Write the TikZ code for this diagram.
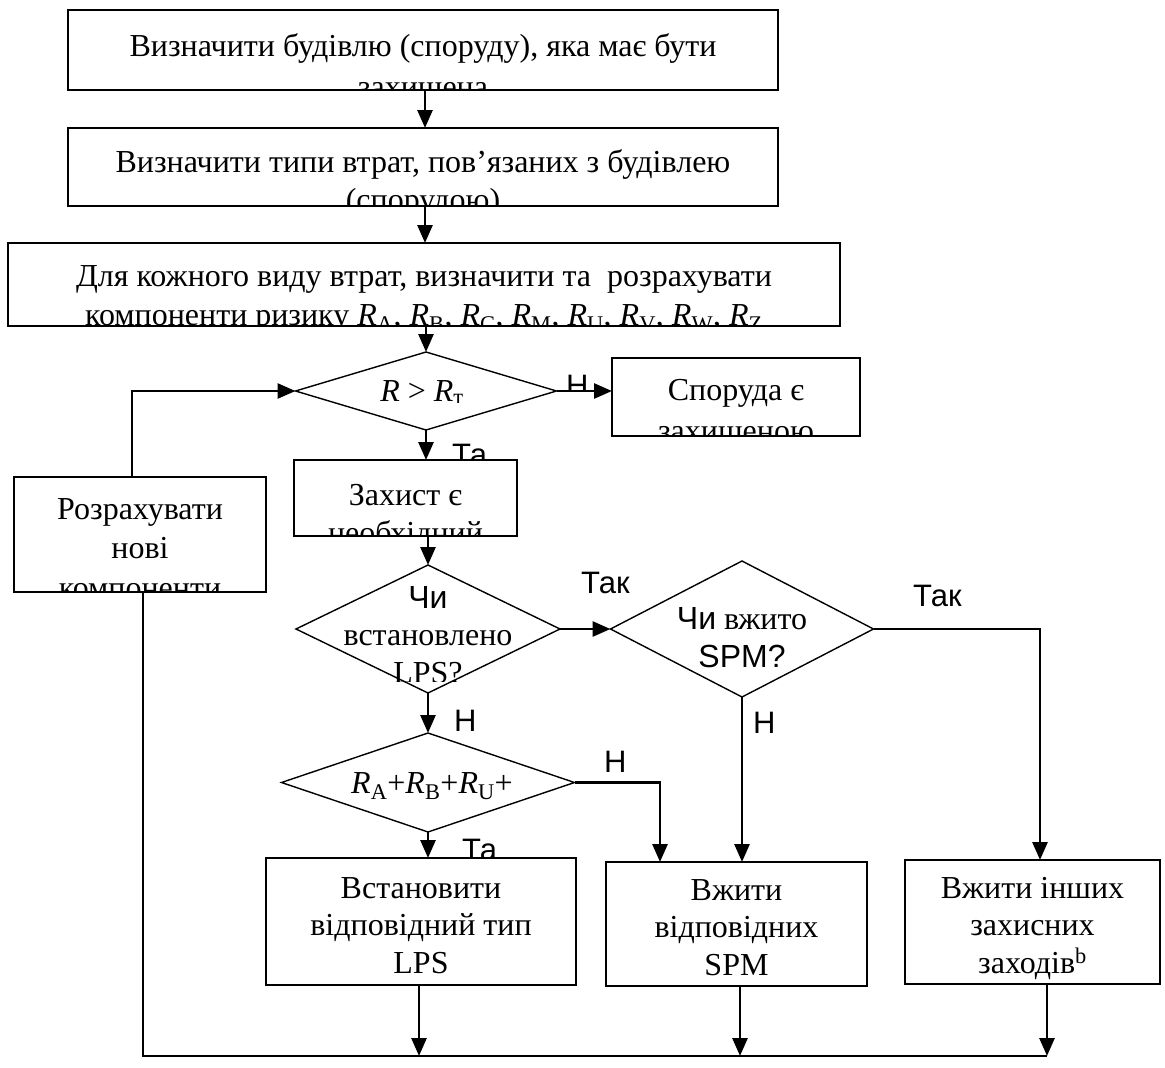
\documentclass[tikz,border=0pt]{standalone}
\usepackage{fontspec}
\setmainfont{Liberation Serif}
\newfontfamily\arialfont{Liberation Sans}
\usetikzlibrary{arrows.meta,shapes.geometric}

\begin{document}
\begin{tikzpicture}[x=1pt,y=-1pt,
  box/.style={draw, line width=1.4pt, inner sep=0pt, outer sep=0pt},
  dia/.style={draw, diamond, line width=1.4pt, inner sep=0pt, outer sep=0pt},
  % anchor=base of a multi-line text is the baseline of its last line
  txt/.style={font=\fontsize{32}{37.5}\selectfont, align=center, inner sep=0pt, anchor=base},
  wide/.style={font=\fontsize{32}{41}\selectfont},
  lbl/.style={font=\arialfont\fontsize{31}{32}\selectfont, inner sep=0pt, anchor=base west},
  flow/.style={line width=2.8pt, -{Triangle[length=18pt,width=15pt]}},
  link/.style={line width=2.8pt}]

\useasboundingbox (0,0) rectangle (1165,1068);

% ---------- boxes ----------
\node[box, minimum width=710pt, minimum height=80pt] (b1) at (423,50) {};
\node[box, minimum width=710pt, minimum height=78pt] (b2) at (423,167) {};
\node[box, minimum width=832pt, minimum height=83pt] (b3) at (424,284.5) {};
\node[dia, minimum width=261pt, minimum height=78pt] (d1) at (426,391) {};
\node[box, minimum width=248pt, minimum height=78pt] (safe) at (736,397) {};
\node[box, minimum width=223pt, minimum height=76pt] (need) at (405.5,498) {};
\node[box, minimum width=252pt, minimum height=115pt] (calc) at (140,534.5) {};
\node[dia, minimum width=264pt, minimum height=128pt] (d2) at (428,629) {};
\node[dia, minimum width=263pt, minimum height=136pt] (d3) at (742,629) {};
\node[dia, minimum width=293pt, minimum height=99pt] (d4) at (428,782.5) {};
\node[box, minimum width=310pt, minimum height=127pt] (lps) at (421,921.5) {};
\node[box, minimum width=261pt, minimum height=124pt] (spm) at (736.5,924) {};
\node[box, minimum width=255pt, minimum height=124pt] (other) at (1032.5,922) {};

% ---------- texts, cut off by their frames ----------
\begin{scope}
  \clip (b1.north west) rectangle (b1.south east);
  \node[txt, wide] (t1) at (423,97) {Визначити будівлю (споруду), яка має бути\\захищена};
\end{scope}
\begin{scope}
  \clip (b2.north west) rectangle (b2.south east);
  \node[txt] (t2) at (423,210) {Визначити типи втрат, пов’язаних з будівлею\\(спорудою)};
\end{scope}
\begin{scope}
  \clip (b3.north west) rectangle (b3.south east);
  \node[txt, font=\fontsize{32}{39}\selectfont] (t3) at (424,325) {Для кожного виду втрат, визначити та~ розрахувати\\компоненти ризику
    \textit{R}\textsubscript{A}, \textit{R}\textsubscript{B}, \textit{R}\textsubscript{C},
    \textit{R}\textsubscript{M}, \textit{R}\textsubscript{U}, \textit{R}\textsubscript{V},
    \textit{R}\textsubscript{W}, \textit{R}\textsubscript{Z}};
\end{scope}
\begin{scope}
  \clip (360,360) rectangle (500,402);
  \node[txt] (t4) at (422,401) {\textit{R} > \textit{R}\textsubscript{т}};
\end{scope}
\begin{scope}
  \clip (safe.north west) rectangle (safe.south east);
  \node[txt, wide] (t5) at (736,441) {Споруда є\\захищеною};
\end{scope}
\begin{scope}
  \clip (need.north west) rectangle (need.south east);
  \node[txt] (t6) at (405.5,543) {Захист є\\необхідний};
\end{scope}
\begin{scope}
  \clip (calc.north west) rectangle (calc.south east);
  \node[txt, font=\fontsize{32}{39.5}\selectfont] (t7) at (140,598) {Розрахувати\\нові\\компоненти};
\end{scope}
\begin{scope}
  \clip (330,575) rectangle (530,681);
  \node[txt] (t8) at (428,683) {{\arialfont Чи}\\встановлено\\LPS?};
\end{scope}
\node[txt] (t9) at (742,667) {{\arialfont Чи} вжито\\{\arialfont SPM?}};
\begin{scope}
  \clip (330,750) rectangle (520,815);
  \node[txt] (t10) at (432,793) {\textit{R}\textsubscript{A}+\textit{R}\textsubscript{B}+\textit{R}\textsubscript{U}+};
\end{scope}
\node[txt] (t11) at (421,973) {Встановити\\відповідний тип\\LPS};
\node[txt] (t12) at (736.5,975) {Вжити\\відповідних\\SPM};
\node[txt] (t13) at (1032.5,973) {Вжити інших\\захисних\\заходів\textsuperscript{b}};

% ---------- branch labels ----------
\begin{scope}
  \clip (560,360) rectangle (600,390);
  \node[lbl] (n1) at (566,396) {Н};
\end{scope}
\begin{scope}
  \clip (450,430) rectangle (520,459);
  \node[lbl] (y1) at (452,465) {Та};
\end{scope}
\node[lbl] (y2) at (581,593) {Так};
\node[lbl] (y3) at (913,606) {Так};
\node[lbl] (n2) at (454,731) {Н};
\node[lbl] (n3) at (753,733) {Н};
\node[lbl] (n4) at (604,772) {Н};
\begin{scope}
  \clip (450,820) rectangle (520,857);
  \node[lbl] (y4) at (462,860) {Та};
\end{scope}

% ---------- connectors ----------
\coordinate (bl) at (143,1056);
\coordinate (br) at (1047,1056);

\draw[flow] (b1.south -| 425,0) -- (b2.north -| 425,0);
\draw[flow] (b2.south -| 425,0) -- (b3.north -| 425,0);
\draw[flow] (b3.south -| d1.north) -- (d1.north);
\draw[flow] (d1.east) -- (safe.west |- d1.east);
\draw[flow] (d1.south) -- (need.north -| d1.south);
\draw[flow] (calc.north -| 132,0) -- (132,391) -- (d1.west);
\draw[flow] (need.south -| d2.north) -- (d2.north);
\draw[flow] (d2.east) -- (d3.west);
\draw[flow] (d3.east) -- (1040,629) -- (other.north -| 1040,0);
\draw[flow] (d3.south) -- (spm.north -| d3.south);
\draw[flow] (d2.south) -- (d4.north);
\draw[flow] (d4.east) -- (660,782.5) -- (spm.north -| 660,0);
\draw[flow] (d4.south) -- (lps.north -| d4.south);
\draw[flow] (lps.south -| 419,0) -- (419,1056);
\draw[flow] (spm.south -| 740,0) -- (740,1056);
\draw[flow] (other.south -| 1047,0) -- (br);
\draw[link] (calc.south -| bl) -- (bl) -- (br);

\end{tikzpicture}
\end{document}
